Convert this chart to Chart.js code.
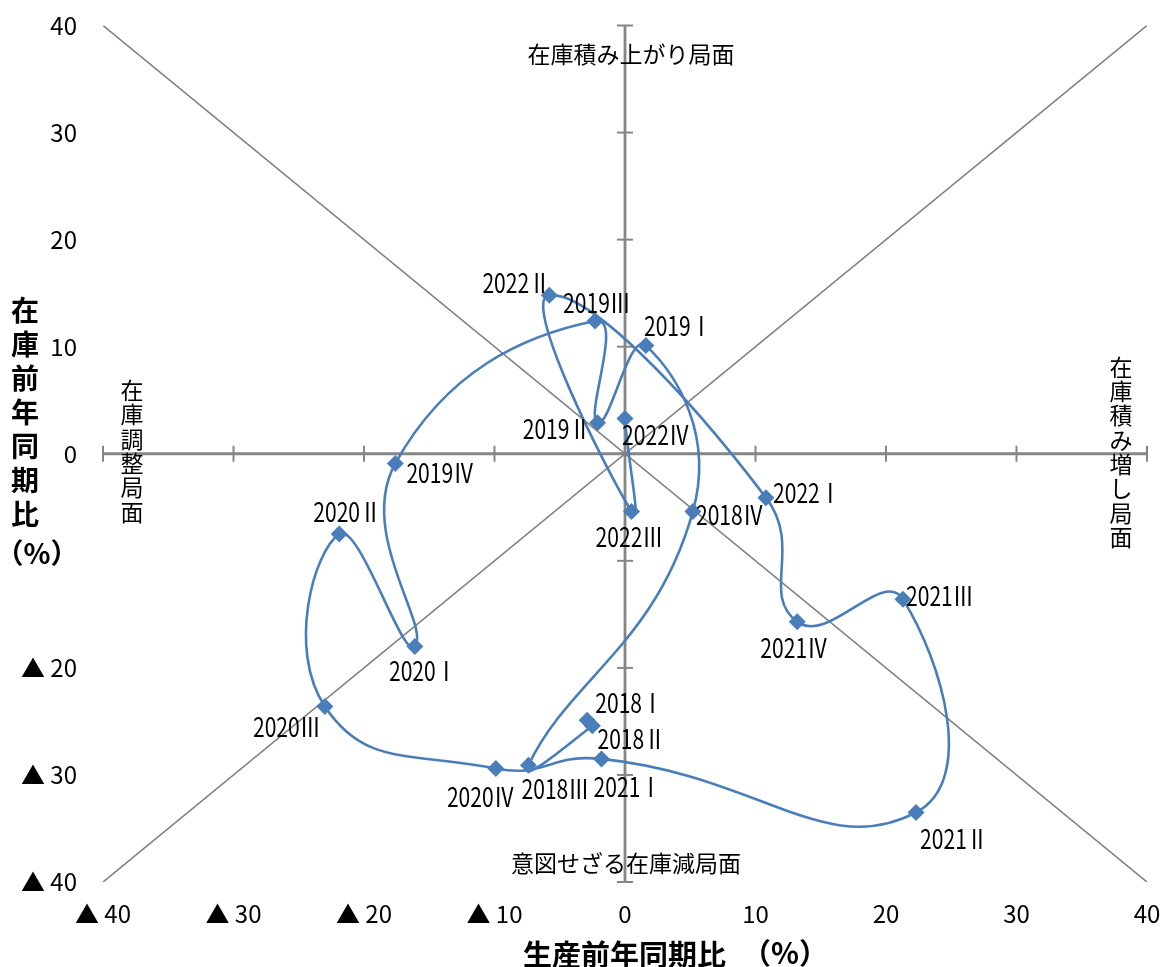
<!DOCTYPE html>
<html>
<head>
<meta charset="utf-8">
<script src="https://cdn.jsdelivr.net/npm/chart.js@4/dist/chart.umd.min.js"></script>
<style>
  html,body{margin:0;padding:0;background:#fff;}
  #wrap{width:1163px;height:967px;position:relative;}
</style>
</head>
<body>
<div id="wrap"><canvas id="c"></canvas></div>
<script>
// ---- data ----
const quarters = ['2018Ⅰ','2018Ⅱ','2018Ⅲ','2018Ⅳ','2019Ⅰ','2019Ⅱ','2019Ⅲ','2019Ⅳ',
                  '2020Ⅰ','2020Ⅱ','2020Ⅲ','2020Ⅳ','2021Ⅰ','2021Ⅱ','2021Ⅲ','2021Ⅳ',
                  '2022Ⅰ','2022Ⅱ','2022Ⅲ','2022Ⅳ'];
const production = [-2.9, -2.5, -7.4, 5.2, 1.6, -2.1, -2.3, -17.6,
                    -16.1, -21.9, -23.0, -9.9, -1.8, 22.3, 21.3, 13.2,
                    10.8, -5.8, 0.5, 0.0];
const inventory  = [-24.9, -25.4, -29.1, -5.4, 10.1, 2.9, 12.4, -0.9,
                    -18.0, -7.5, -23.6, -29.4, -28.5, -33.5, -13.6, -15.7,
                    -4.1, 14.8, -5.4, 3.3];
const axisMin = -40, axisMax = 40, axisStep = 10;
const hiddenYTicks = [-10];
const quadrantTexts = {
  top: '在庫積み上がり局面',
  bottom: '意図せざる在庫減局面',
  left: '在庫調整局面',
  right: '在庫積み増し局面'
};
const xTitle = '生産前年同期比';
const yTitle = '在庫前年同期比';
const unitText = '（%）';

// ---- label placement (pixel offsets from marker) ----
const labelOffsets = [[42,-18],[39,13],[27,23],[37,3],[32,-20],[-41,6],[2,-18],[45,9],
                      [8,24],[8,-22],[-38,20],[-15,28],[26,28],[38,26],[37,-4],[-3,26],
                      [41,-5],[-33,-13],[-2,25],[31,16]];

const JP = '"Noto Sans CJK JP", "Noto Sans", sans-serif';
const fmt = v => v === 0 ? '0' : (v < 0 ? '▲ ' + Math.abs(v) : String(v));

const series = quarters.map((q, i) => ({x: production[i], y: inventory[i]}));

const centerAxes = {
  id: 'centerAxes',
  beforeDatasetsDraw(chart) {
    const {ctx, scales: {x, y}} = chart;
    const x0 = x.getPixelForValue(0), y0 = y.getPixelForValue(0);
    ctx.save();
    ctx.strokeStyle = '#868686';
    ctx.lineWidth = 2.8;
    ctx.beginPath(); ctx.moveTo(x.getPixelForValue(axisMin), y0); ctx.lineTo(x.getPixelForValue(axisMax), y0); ctx.stroke();
    ctx.beginPath(); ctx.moveTo(x0, y.getPixelForValue(axisMax)); ctx.lineTo(x0, y.getPixelForValue(axisMin)); ctx.stroke();
    ctx.lineWidth = 2;
    x.ticks.forEach(t => {
      if (t.value === 0) return;
      const px = x.getPixelForValue(t.value);
      ctx.beginPath(); ctx.moveTo(px, y0 - 8); ctx.lineTo(px, y0 + 8); ctx.stroke();
    });
    y.ticks.forEach(t => {
      if (t.value === 0) return;
      const py = y.getPixelForValue(t.value);
      ctx.beginPath(); ctx.moveTo(x0 - 8, py); ctx.lineTo(x0 + 8, py); ctx.stroke();
    });
    ctx.restore();
  }
};

const texts = {
  id: 'texts',
  afterDatasetsDraw(chart) {
    const {ctx, scales: {x, y}} = chart;
    ctx.save();
    ctx.fillStyle = '#000';
    // point labels (condensed)
    ctx.font = '27px ' + JP;
    ctx.textAlign = 'center';
    ctx.textBaseline = 'middle';
    quarters.forEach((q, i) => {
      const px = x.getPixelForValue(production[i]) + labelOffsets[i][0];
      const py = y.getPixelForValue(inventory[i]) + labelOffsets[i][1];
      ctx.save();
      ctx.translate(px, py);
      ctx.scale(0.78, 1);
      ctx.fillText(q, 0, 0);
      ctx.restore();
    });
    // quadrant labels
    ctx.font = '23px ' + JP;
    ctx.fillText(quadrantTexts.top, 631, 54);
    ctx.fillText(quadrantTexts.bottom, 626, 863);
    const vert = (str, cx, cy0, step) => {
      [...str].forEach((ch, k) => ctx.fillText(ch, cx, cy0 + k * step));
    };
    vert(quadrantTexts.left, 132, 390, 24.4);
    vert(quadrantTexts.right, 1121, 367, 24.3);
    // axis titles
    ctx.font = 'bold 28px ' + JP;
    vert(yTitle, 25, 310, 34);
    ctx.fillText(unitText, 37, 553);
    ctx.font = 'bold 29px ' + JP;
    ctx.textAlign = 'left';
    ctx.fillText(xTitle, 523, 955);
    ctx.textAlign = 'center';
    ctx.fillText(unitText, 785, 953);
    ctx.restore();
  }
};

const noPad = s => { s.paddingTop = 0; s.paddingBottom = 0; s.paddingLeft = 0; s.paddingRight = 0; };

new Chart(document.getElementById('c'), {
  type: 'scatter',
  data: {
    datasets: [
      {
        label: 'cycle',
        data: series,
        showLine: true,
        tension: 0.5,
        borderColor: '#4A7EBB',
        borderWidth: 2.6,
        pointStyle: 'rectRot',
        pointRadius: 8.5,
        pointHoverRadius: 8.5,
        pointBackgroundColor: '#4A7EBB',
        pointBorderColor: '#4A7EBB',
        pointBorderWidth: 0,
        order: 0
      },
      {
        label: 'diag1',
        data: [{x: axisMin, y: axisMax}, {x: axisMax, y: axisMin}],
        showLine: true, borderColor: '#808080', borderWidth: 1.6, pointRadius: 0, order: 1
      },
      {
        label: 'diag2',
        data: [{x: axisMin, y: axisMin}, {x: axisMax, y: axisMax}],
        showLine: true, borderColor: '#808080', borderWidth: 1.6, pointRadius: 0, order: 1
      }
    ]
  },
  options: {
    responsive: true,
    maintainAspectRatio: false,
    animation: false,
    layout: {padding: {top: 25.5, right: 16, bottom: 0, left: 0}},
    plugins: {legend: {display: false}, tooltip: {enabled: false}},
    scales: {
      x: {
        type: 'linear', min: axisMin, max: axisMax,
        ticks: {stepSize: axisStep, callback: fmt, color: '#000', font: {family: JP, size: 24}, padding: 17, maxRotation: 0, autoSkip: false},
        grid: {display: false, drawTicks: false},
        border: {display: false},
        afterFit: s => { s.height = 85; noPad(s); }
      },
      y: {
        type: 'linear', min: axisMin, max: axisMax,
        ticks: {stepSize: axisStep, callback: v => hiddenYTicks.includes(v) ? '' : fmt(v), color: '#000', font: {family: JP, size: 24}, padding: 26, autoSkip: false},
        grid: {display: false, drawTicks: false},
        border: {display: false},
        afterFit: s => { s.width = 103; noPad(s); }
      }
    }
  },
  plugins: [centerAxes, texts]
});
</script>
</body>
</html>
